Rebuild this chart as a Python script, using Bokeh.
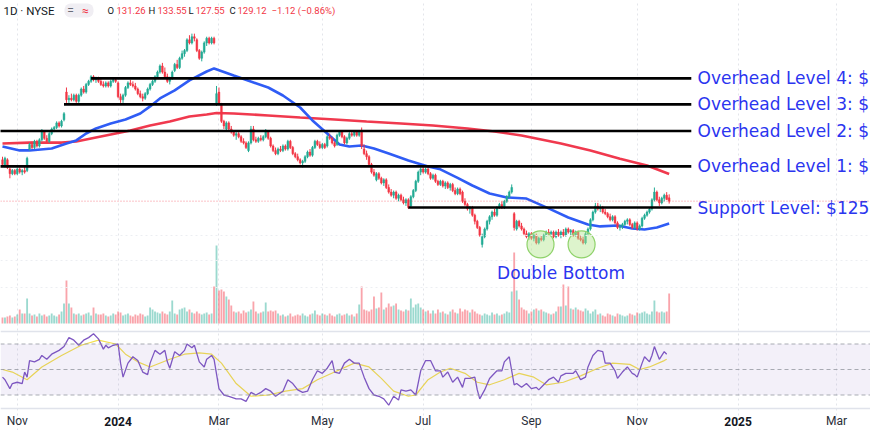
from bokeh.plotting import figure
from bokeh.models import Range1d, FixedTicker, ColumnDataSource, Span, BoxAnnotation
from bokeh.core.properties import value
from bokeh.embed import file_html
from bokeh.resources import INLINE

# ---------------- data ----------------
opens = [
    156,152,156,150,147,149,147,150,148,149,
    149,163,166,164,168,165,169,174,170,168,
    173,176,177,180,178,182,200,195,196,195,
    198,194,198,202,200,205,207,210,208,209,
    207,205,204,206,204,207,208,206,197,195,
    198,203,206,205,204,202,199,197,196,199,
    202,205,207,210,213,217,213,210,207,209,
    214,218,216,222,225,227,234,232,236,234,
    227,222,226,232,235,232,235,193,200,192,
    181,176,180,176,174,172,173,171,168,167,
    162,167,176,169,168,170,169,171,174,170,
    165,162,160,163,162,165,163,168,164,160,
    158,156,154,155,158,161,159,164,168,166,
    164,166,165,171,170,167,166,172,174,171,
    167,170,173,172,174,172,175,163,160,158,
    153,148,143,147,144,141,143,138,135,133,
    135,131,133,130,128,130,126,132,136,142,
    148,150,148,150,147,144,146,142,140,142,
    139,141,138,140,136,134,137,135,129,127,
    124,125,120,116,112,101,106,111,116,119,
    122,120,125,127,125,129,132,135,121,111,
    116,113,111,108,106,108,105,107,102,105,
    104,107,109,108,109,106,109,107,109,107,
    111,109,110,107,109,105,104,102,108,111,
    117,122,126,124,125,122,121,119,117,119,
    115,112,113,114,116,117,114,112,115,111,
    113,118,120,122,124,130,135,130,128,131,
    133,131.26]
highs = [
    158,158,157,151,150,150,151,151,150,152,
    158,167,168,169,169,170,176,175,172,174,
    177,178,181,181,182,187,203,198,199,199,
    199,199,203,204,206,208,211,211,210,210,
    209,207,207,207,208,209,209,207,199,199,
    204,207,208,207,206,203,201,199,200,203,
    206,208,211,214,218,219,216,212,210,214,
    219,221,223,227,228,235,237,238,238,235,
    228,227,233,236,236,236,236,204,203,193,
    182,181,181,178,175,174,174,172,170,168,
    168,178,178,171,171,172,172,176,175,171,
    166,164,164,165,166,166,169,169,165,161,
    160,157,156,159,162,163,165,169,169,168,
    167,167,172,173,171,168,173,175,175,172,
    171,174,175,175,175,175,177,166,162,159,
    154,150,148,148,145,144,144,140,137,136,
    136,134,134,132,131,131,133,137,143,149,
    151,152,151,151,148,147,147,143,143,143,
    142,142,141,141,138,138,138,136,131,128,
    126,126,121,117,113,108,112,117,120,123,
    124,126,128,129,130,133,136,140,122,117,
    117,115,112,110,109,109,108,108,106,107,
    108,110,111,110,110,110,111,110,111,112,
    112,111,111,110,110,107,106,109,112,118,
    123,128,128,127,126,124,122,121,120,120,
    116,114,115,117,118,118,115,116,116,114,
    119,121,123,125,131,138,136,132,132,134,
    135,133.55]
lows = [
    152,151,150,144,146,146,146,147,146,147,
    148,162,163,163,164,164,168,169,167,167,
    172,174,176,177,177,181,193,193,194,194,
    193,193,197,199,199,204,206,207,206,206,
    204,203,203,203,203,206,206,196,193,193,
    197,202,204,203,201,198,196,194,195,198,
    201,204,206,209,212,212,209,206,205,208,
    213,215,215,221,223,226,231,231,233,226,
    221,220,225,230,231,231,231,191,192,180,
    176,175,175,173,171,169,170,167,166,163,
    161,166,168,167,167,168,168,170,169,164,
    161,159,159,161,161,162,162,163,159,157,
    155,153,151,154,157,158,158,163,165,163,
    163,163,164,169,166,164,165,171,170,166,
    166,169,171,171,171,171,163,159,156,152,
    147,145,142,143,140,139,137,134,132,131,
    130,129,129,127,126,124,125,131,135,141,
    146,147,147,146,143,143,141,139,139,138,
    137,137,136,135,133,133,133,128,126,123,
    121,119,114,111,106,99,105,110,114,117,
    119,119,124,124,124,128,131,134,110,110,
    112,110,107,105,104,104,103,101,101,103,
    103,106,107,106,105,105,106,105,106,106,
    108,107,106,106,104,103,101,101,107,110,
    116,121,123,122,121,120,118,116,116,114,
    111,110,111,113,114,113,111,111,110,110,
    112,117,119,121,123,129,129,126,127,129,
    130,127.55]
closes = [
    153,157,151,147,149,147,150,148,149,148,
    157,166,164,168,165,169,174,170,168,173,
    176,177,180,178,181,186,195,196,195,198,
    194,198,202,200,205,207,210,208,209,207,
    205,204,206,204,207,208,207,197,195,198,
    203,206,205,204,202,199,197,196,199,202,
    205,207,210,213,217,213,210,207,209,213,
    218,216,222,225,227,234,232,236,235,227,
    222,226,232,235,232,235,232,199,193,181,
    178,180,176,174,172,173,171,168,167,164,
    167,176,169,168,170,169,171,174,170,165,
    162,160,163,162,165,163,168,164,160,158,
    156,154,155,158,161,159,164,168,166,164,
    166,164,171,170,167,165,172,174,171,167,
    170,173,172,174,172,174,165,160,158,153,
    148,146,147,144,141,143,138,135,133,135,
    131,133,130,128,130,125,132,136,142,148,
    150,148,150,147,144,146,142,140,142,139,
    141,138,140,136,134,137,134,129,127,124,
    125,120,116,112,107,106,111,116,119,122,
    120,125,127,125,129,132,135,138,112,116,
    113,111,108,106,108,105,107,102,105,104,
    107,109,108,109,106,109,107,109,107,111,
    109,110,107,109,105,104,102,108,111,117,
    122,126,124,125,122,121,119,117,119,115,
    112,113,114,116,117,114,112,115,111,113,
    118,120,122,124,130,135,130,128,131,133,
    130.24,129.12]
volumes = [
    3,3,3.5,4,3,3.5,4.5,7,5,5,
    12.5,5,4,4.5,3.5,5,
    4,4.5,3.5,4,5,4,3.5,4.5,6,
    10,21.5,10,8,5,4.5,5,4,4.5,
    5,5.5,4,8,5,4.5,
    4.5,5,4,3.5,4,5,4.5,6,5.5,4,4.5,5,4,3.5,4.5,4,5,4.5,3.5,4,
    8,7,6,
    5.5,5,6,5,4.5,6,
    11.5,5,4.5,7,7.5,8,
    6,7,5.5,5,6,5,4.5,5,5.5,4.5,5,
    18.5,39,16.5,17,16,13.5,12,9,
    6,5.5,6,5,6.5,5.5,6,7,
    11,6,5,5.5,6,10.5,6,6.5,6,6.5,5,
    4,4.5,3.5,4,5,3.5,4,4.5,4,5,4,3.5,4.5,5,
    6.5,4.5,4,5,4.5,4,5,4,3.5,4.5,5,4,4.5,5,4,4.5,3.5,5,
    9.5,18.5,7,6.5,6,7,13.5,7.5,8,15.5,7,8,10,8.5,9,10,7,6.5,6,7,6.5,12.5,8,9.5,10,8,7,6,6.5,
    5,6.5,5,7,5.5,6,5,4.5,6,7,5.5,5,7.5,6,7,6.5,5.5,7,6,5,4.5,4,5,4.5,4,5.5,4.5,5,4,4.5,5,6,5.5,
    16,35.5,16.5,12,8,7,6.5,5,
    6,7,7.5,6.5,7,6,5.5,5,4.5,5,6,8.5,
    8.5,19.5,9,18.5,7.5,7,8,7,6.5,6,7.5,6.5,5,6,7,
    4.5,5,4,3.5,5,4.5,4,3.5,5,4.5,4,3.5,4,5,4.5,4,5.5,5,5.5,6,5,4.5,6,
    11.5,6,5.5,6,5.5,6,15]
prev_close = 130.24

ma50_idx = [0,7,11,20,26,30,34,38,44,50,56,60,64,70,76,83,86,94,108,114,121,126,132,137,141,
            146,151,157,165,173,178,185,191,198,205,213,222,230,238,243,250,256,261,266,271]
ma50_val = [164.6,162.1,162.1,163.4,166.6,168.6,173.1,176.4,179.6,182.2,186.1,190.7,195.9,201.1,
            207.6,213.4,215.4,210.8,203.0,197.8,190.0,181.6,173.1,166.0,164.6,165.3,163.4,160.1,
            155.6,151.7,149.8,144.3,139.3,134.1,131.5,130.8,124.4,118.5,114.0,112.7,113.3,111.4,
            110.7,112.0,114.6]
ma200_idx = [0,11,24,30,36,44,52,60,68,76,83,87,94,108,121,135,148,162,175,189,200,211,227,239,251,262,271]
ma200_val = [166.6,167.2,167.2,167.9,169.9,172.5,175.1,178.3,180.9,184.2,185.5,186.4,186.1,184.8,
             183.5,182.2,180.9,179.6,178.3,176.4,174.4,171.8,166.6,162.1,156.7,152.3,146.8]

rsi_idx = [0,1,3,4,6,8,9,10,11,13,15,16,18,20,23,25,27,29,31,33,35,37,39,41,42,43,45,47,48,49,
           51,53,55,57,59,60,62,64,66,67,68,70,72,74,75,77,78,80,82,83,85,86,88,90,92,95,97,99,101,103,
           105,107,109,111,114,116,118,120,122,124,126,128,130,132,134,135,137,139,141,143,
           145,147,149,151,153,155,157,159,161,162,164,166,168,170,172,174,176,178,179,181,
           183,185,187,188,190,192,193,194,196,198,200,201,203,204,206,208,209,211,213,215,
           217,218,220,222,224,226,227,229,232,233,235,237,238,240,242,244,245,247,249,250,
           252,254,256,257,258,260,261,263,264,265,267,269,270]
rsi_val = [44,42,35,39,40,39,48,44,57,56,58,61,58,62,65,68,75,73,69,73,75,78,74,66,69,67,69,70,55,44,
           55,60,57,48,46,55,65,62,65,56,51,64,61,65,70,67,69,56,52,58,61,58,35,30,29,27,27,25,32,30,
           32,35,33,29,33,42,39,34,32,33,42,49,47,51,57,48,47,55,58,55,
           55,44,35,30,29,27,22,29,26,34,33,34,30,49,57,57,49,49,44,48,
           40,44,36,43,43,44,34,27,34,43,47,49,49,56,60,38,39,36,39,35,
           36,34,38,42,44,40,45,47,47,49,42,44,52,61,65,64,55,55,49,43,
           48,52,47,46,44,55,60,56,61,68,58,64,62]
rsi_ma_idx = [0,4,10,16,24,32,39,46,50,55,60,68,74,80,85,89,95,101,108,115,122,128,135,143,149,154,
              159,165,168,173,178,182,188,193,198,204,210,216,221,228,235,242,248,255,259,263,269,270]
rsi_ma_val = [50,48,42,52,61,69,73,70,62,56,52,58,62,63,62,55,39,29,30,33,35,42,48,55,52,43,
              33,29,30,42,48,51,47,40,38,42,47,44,38,40,45,51,55,54,50,52,57,58]

level_names = ["Overhead Level 4: $", "Overhead Level 3: $", "Overhead Level 2: $",
               "Overhead Level 1: $", "Support Level: $125"]
level_prices = [208.9, 192.0, 174.7, 151.7, 125.0]
level_start = [36, 25, -1, -1, 165]
level_end = 280

double_bottom_idx = [218.7, 235.4]
double_bottom_price = [101.0, 101.0]

tick_idx = [6, 47, 88, 130, 171, 215, 258, 299, 339]
tick_labels = ["Nov", "2024", "Mar", "May", "Jul", "Sep", "Nov", "2025", "Mar"]
year_ticks = {"2024", "2025"}

# ---------------- layout helpers (pixel geometry of the canvas) ----------------
W, H = 870, 430
X0, PX_BAR = 2.0, 2.46
P_TOP, P_PX = 259.55, 0.65
VOL_BASE, VOL_PX = 323.0, 2.0
RSI_MID, RSI_PX = 369.0, 1.275


def bx(px):
    return (px - X0) / PX_BAR


def py(ypx):
    return P_TOP - P_PX * ypx


def ry(ypx):
    return 50 + (RSI_MID - ypx) / RSI_PX


UP, DOWN = "#22ab94", "#f23645"
BLUE_TXT = "#2b35ef"

n = len(closes)
idx = list(range(n))
colors = [UP if c >= o else DOWN for o, c in zip(opens, closes)]
src = ColumnDataSource(dict(i=idx, o=opens, h=highs, l=lows, c=closes,
                            top=[max(a, b) for a, b in zip(opens, closes)],
                            bot=[min(a, b) for a, b in zip(opens, closes)],
                            col=colors, v=volumes))

p = figure(width=W, height=H, output_backend="svg", toolbar_location=None,
           x_range=Range1d(bx(0), bx(W)), y_range=Range1d(py(H), py(0)),
           x_axis_location=None, y_axis_location=None,
           min_border_left=0, min_border_right=0, min_border_top=0, min_border_bottom=0)
p.outline_line_color = None
p.background_fill_color = "white"
p.border_fill_color = "white"
p.extra_y_ranges = {
    "vol": Range1d((VOL_BASE - H) / VOL_PX, VOL_BASE / VOL_PX),
    "rsi": Range1d(ry(H), ry(0)),
}

# vertical grid at month ticks + time-scale labels
p.xgrid.ticker = FixedTicker(ticks=tick_idx)
p.xgrid.grid_line_color = "#e3e5ea"
p.xgrid.grid_line_dash = "2 3"
p.ygrid.visible = False
p.add_layout(Span(location=ry(408), dimension="width", y_range_name="rsi",
                  line_color="#e0e3eb", line_width=1.5))
tick_src = ColumnDataSource(dict(x=tick_idx, y=[ry(420.5)] * len(tick_idx), t=tick_labels,
                                 fs=["bold" if t in year_ticks else "normal" for t in tick_labels],
                                 c=["#131722" if t in year_ticks else "#2a2e39" for t in tick_labels]))
p.text(x="x", y="y", text="t", text_font_style="fs", text_color="c", source=tick_src,
       y_range_name="rsi", text_font=value("Roboto"), text_font_size="12px",
       text_align="center", text_baseline="middle")

for gy in (235, 260, 287):
    p.add_layout(Span(location=py(gy), dimension="width", line_color="#eceef2",
                      line_dash="2 3", line_width=1))

# volume
p.vbar(x="i", top="v", bottom=0, width=0.75, fill_color="col", line_color=None,
       fill_alpha=0.45, source=src, y_range_name="vol")

# RSI pane
p.add_layout(Span(location=ry(331), dimension="width", y_range_name="rsi",
                  line_color="#e0e3eb", line_width=1.5))
p.add_layout(BoxAnnotation(bottom=30, top=70, y_range_name="rsi", fill_color="#7e57c2",
                           fill_alpha=0.09, line_color=None))
for lv in (70, 50, 30):
    p.add_layout(Span(location=lv, dimension="width", y_range_name="rsi", line_color="#9598a1",
                      line_dash="4 3", line_width=1, line_alpha=0.8))
p.line(rsi_ma_idx, rsi_ma_val, y_range_name="rsi", line_color="#f3e04f", line_width=1.2)
p.line(rsi_idx, rsi_val, y_range_name="rsi", line_color="#7e57c2", line_width=1.3)

# current price line
p.add_layout(Span(location=closes[-1], dimension="width", line_color=DOWN, line_alpha=0.6,
                  line_dash="1 2", line_width=1))

# moving averages
p.line(ma200_idx, ma200_val, line_color="#f0394e", line_width=2.6)
p.line(ma50_idx, ma50_val, line_color="#2f5cf5", line_width=2.6)

# candles
p.segment(x0="i", x1="i", y0="l", y1="h", line_color="col", line_width=1, source=src)
p.vbar(x="i", top="top", bottom="bot", width=0.7, fill_color="col", line_color="col",
       line_width=0.5, source=src)

# levels
p.segment(x0=level_start, x1=[level_end] * len(level_prices), y0=level_prices, y1=level_prices,
          line_color="black", line_width=2.6)
p.text(x=[bx(697)] * len(level_prices), y=level_prices, text=level_names,
       text_font=value("DejaVu Sans"), text_font_size="17px", text_color=BLUE_TXT,
       text_baseline="middle", text_align="left")

# double bottom
p.scatter(double_bottom_idx, double_bottom_price, size=27, marker="circle",
          fill_color="#b4e68e", fill_alpha=0.45, line_color="#8fd26a", line_width=1.2)
p.text(x=[sum(double_bottom_idx) / 2], y=[py(272)], text=["Double Bottom"],
       text_font=value("DejaVu Sans"), text_font_size="17px", text_color=BLUE_TXT,
       text_baseline="middle", text_align="center")

# header
hy = py(10)
p.text(x=[bx(3)], y=[hy], text=["1D · NYSE"], text_font=value("Roboto"), text_font_size="11.5px",
       text_color="#131722", text_baseline="middle")
p.quad(left=[bx(64)], right=[bx(93)], top=[py(3)], bottom=[py(17)], fill_color="#f0eef3",
       line_color=None, border_radius=6)
p.text(x=[bx(70)], y=[hy], text=["="], text_font=value("Roboto"), text_font_size="12px",
       text_color="#6a6d78", text_baseline="middle", text_align="center")
p.text(x=[bx(85)], y=[hy], text=["≈"], text_font=value("Roboto"), text_font_size="12px",
       text_color=DOWN, text_baseline="middle", text_align="center")
chg = closes[-1] - prev_close
pct = chg / prev_close * 100
letters = ["O", "H", "L", "C"]
letter_px = [107, 148, 188, 229]
vals = [opens[-1], highs[-1], lows[-1], closes[-1]]
val_px = [116, 157, 195, 237]
p.text(x=[bx(v) for v in letter_px], y=[hy] * 4, text=letters, text_font=value("Roboto"),
       text_font_size="9.5px", text_color="#131722", text_baseline="middle")
p.text(x=[bx(v) for v in val_px] + [bx(271)], y=[hy] * 5,
       text=[f"{v:.2f}" for v in vals] + [f"−{abs(chg):.2f} (−{abs(pct):.2f}%)"],
       text_font=value("Roboto"), text_font_size="9.5px", text_color=DOWN, text_baseline="middle")

open("out.html", "w").write(file_html(p, INLINE))
